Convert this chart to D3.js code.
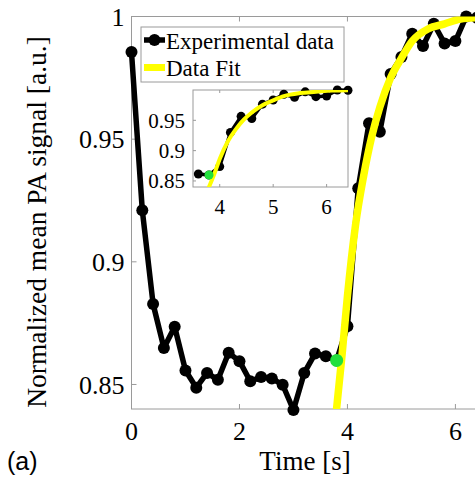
<!DOCTYPE html>
<html>
<head>
<meta charset="utf-8">
<script src="https://cdn.jsdelivr.net/npm/d3@7"></script>
<style>
  body { margin: 0; background: #fff; }
  svg { display: block; }
</style>
</head>
<body>
<svg id="chart" width="475" height="478"></svg>
<script>

// measured PA signal, sampled every 0.2 s
var times = [0, 0.2, 0.4, 0.6, 0.8, 1.0, 1.2, 1.4, 1.6, 1.8, 2.0, 2.2, 2.4, 2.6, 2.8, 3.0,
	3.2, 3.4, 3.6, 3.8, 4.0, 4.2, 4.4, 4.6, 4.8, 5.0, 5.2, 5.4, 5.6, 5.8, 6.0, 6.2, 6.4];
var signal = [0.9855, 0.921, 0.8828, 0.8649, 0.8735, 0.8557, 0.8487, 0.8547, 0.8519, 0.8629,
	0.8595, 0.8513, 0.853, 0.8524, 0.8499, 0.8396, 0.8547, 0.8626, 0.8615, 0.8598,
	0.8737, 0.930, 0.9565, 0.953, 0.9766, 0.9835, 0.993, 0.988, 0.997, 0.989, 0.990, 1.0, 0.9995];

// fitted curve
var fitTimes = [3.78, 3.9, 4.0, 4.15, 4.3, 4.45, 4.6, 4.8, 5.0, 5.2, 5.5, 5.8, 6.1, 6.4];
var fitValues = [0.836, 0.862, 0.886, 0.915, 0.935, 0.951, 0.963, 0.975, 0.983, 0.990, 0.995, 0.997, 0.999, 0.9995];

var fitStart = {t: 3.8, v: 0.8598};

var yTicks = [0.85, 0.9, 0.95, 1];
var xTicks = [0, 2, 4, 6];
var insetYTicks = [0.85, 0.9, 0.95];
var insetXTicks = [4, 5, 6];

var svg = d3.select('#chart');
var serif = '"Liberation Serif", "Times New Roman", serif';
var grey = '#9a9a9a';

var data = times.map(function (t, i) { return {t: t, v: signal[i]}; });
var fit = fitTimes.map(function (t, i) { return {t: t, v: fitValues[i]}; });

var drawPanel = function (g, x, y, opt, id) {
	var x0 = x.range()[0], x1 = x.range()[1];
	var yb = y.range()[0], yt = y.range()[1];

	g.append('rect')
		.attr('x', x0).attr('y', yt)
		.attr('width', x1 - x0).attr('height', yb - yt)
		.attr('fill', 'white')
		.attr('stroke', grey)
		.attr('stroke-width', 1);

	g.append('clipPath').attr('id', id)
		.append('rect')
		.attr('x', x0).attr('y', yt)
		.attr('width', x1 - x0).attr('height', yb - yt);

	// inward ticks, MATLAB style
	var tl = opt.tick;
	g.selectAll('.xt').data(opt.xTicks).enter().append('line')
		.attr('x1', function (d) { return x(d); })
		.attr('x2', function (d) { return x(d); })
		.attr('y1', yb).attr('y2', yb - tl)
		.attr('stroke', grey);
	g.selectAll('.xt2').data(opt.xTicks).enter().append('line')
		.attr('x1', function (d) { return x(d); })
		.attr('x2', function (d) { return x(d); })
		.attr('y1', yt).attr('y2', yt + tl)
		.attr('stroke', grey);
	g.selectAll('.yt').data(opt.yTicks).enter().append('line')
		.attr('x1', x0).attr('x2', x0 + tl)
		.attr('y1', function (d) { return y(d); })
		.attr('y2', function (d) { return y(d); })
		.attr('stroke', grey);

	g.selectAll('.xl').data(opt.xTicks).enter().append('text')
		.attr('x', function (d) { return x(d); })
		.attr('y', yb + opt.xLabelDy)
		.attr('text-anchor', 'middle')
		.attr('font-family', serif)
		.attr('font-size', opt.font)
		.text(function (d) { return d3.format('')(d); });

	g.selectAll('.yl').data(opt.yTicks).enter().append('text')
		.attr('x', x0 - opt.yLabelDx)
		.attr('y', function (d) { return y(d); })
		.attr('dy', '0.35em')
		.attr('text-anchor', 'end')
		.attr('font-family', serif)
		.attr('font-size', opt.font)
		.text(function (d) { return d3.format('')(d); });

	var line = d3.line()
		.x(function (d) { return x(d.t); })
		.y(function (d) { return y(d.v); });

	g.append('path')
		.datum(opt.data)
		.attr('d', line)
		.attr('fill', 'none')
		.attr('stroke', 'black')
		.attr('stroke-width', opt.lw)
		.attr('stroke-linejoin', 'round');

	g.selectAll('.pt').data(opt.data).enter().append('circle')
		.attr('cx', function (d) { return x(d.t); })
		.attr('cy', function (d) { return y(d.v); })
		.attr('r', opt.r)
		.attr('fill', 'black');

	var fitLine = d3.line()
		.curve(d3.curveMonotoneX)
		.x(function (d) { return x(d.t); })
		.y(function (d) { return y(d.v); });

	g.append('path')
		.datum(fit)
		.attr('d', fitLine)
		.attr('clip-path', 'url(#' + id + ')')
		.attr('fill', 'none')
		.attr('stroke', '#ffff00')
		.attr('stroke-width', opt.fw);

	g.append('circle')
		.attr('cx', x(fitStart.t))
		.attr('cy', y(fitStart.v))
		.attr('r', opt.gr)
		.attr('fill', '#22e03c');
};

// main panel
var x = d3.scaleLinear().domain([0, 6.4]).range([131.5, 477]);
var y = d3.scaleLinear().domain([0.84, 1.0]).range([409, 16.5]);

var main = svg.append('g');
drawPanel(main, x, y, {
	xTicks: xTicks, yTicks: yTicks, tick: 5, font: 26,
	xLabelDy: 31, yLabelDx: 7, data: data,
	lw: 5.5, r: 6, fw: 7.5, gr: 6.5
}, 'clipMain');

// axis titles
svg.append('text')
	.attr('x', 305).attr('y', 470)
	.attr('text-anchor', 'middle')
	.attr('font-family', serif)
	.attr('font-size', 27)
	.text('Time [s]');

svg.append('text')
	.attr('transform', 'translate(46,222) rotate(-90)')
	.attr('text-anchor', 'middle')
	.attr('font-family', serif)
	.attr('font-size', 27.5)
	.text('Normalized mean PA signal [a.u.]');

svg.append('text')
	.attr('x', 7).attr('y', 470)
	.attr('font-family', '"Liberation Sans", Arial, sans-serif')
	.attr('font-size', 25)
	.text('(a)');

// legend
var leg = svg.append('g');
leg.append('rect')
	.attr('x', 141).attr('y', 27)
	.attr('width', 203).attr('height', 55)
	.attr('fill', 'white')
	.attr('stroke', grey);
leg.append('line')
	.attr('x1', 144).attr('x2', 165).attr('y1', 40).attr('y2', 40)
	.attr('stroke', 'black').attr('stroke-width', 5.5);
leg.append('circle')
	.attr('cx', 154.5).attr('cy', 40).attr('r', 6).attr('fill', 'black');
leg.append('line')
	.attr('x1', 144).attr('x2', 165).attr('y1', 67.5).attr('y2', 67.5)
	.attr('stroke', '#ffff00').attr('stroke-width', 7);
leg.append('text')
	.attr('x', 166).attr('y', 49)
	.attr('font-family', serif).attr('font-size', 23)
	.text('Experimental data');
leg.append('text')
	.attr('x', 166).attr('y', 76)
	.attr('font-family', serif).attr('font-size', 23)
	.text('Data Fit');

// inset, zoom on the recovery
var xi = d3.scaleLinear().domain([3.5, 6.4]).range([193, 348]);
var yi = d3.scaleLinear().domain([0.84, 1.0]).range([187, 90]);

var inset = svg.append('g');
drawPanel(inset, xi, yi, {
	xTicks: insetXTicks, yTicks: insetYTicks, tick: 3, font: 21,
	xLabelDy: 27, yLabelDx: 8,
	data: data.filter(function (d) { return d.t >= 3.5; }),
	lw: 3.5, r: 4.5, fw: 4, gr: 4.5
}, 'clipInset');

</script>
</body>
</html>
